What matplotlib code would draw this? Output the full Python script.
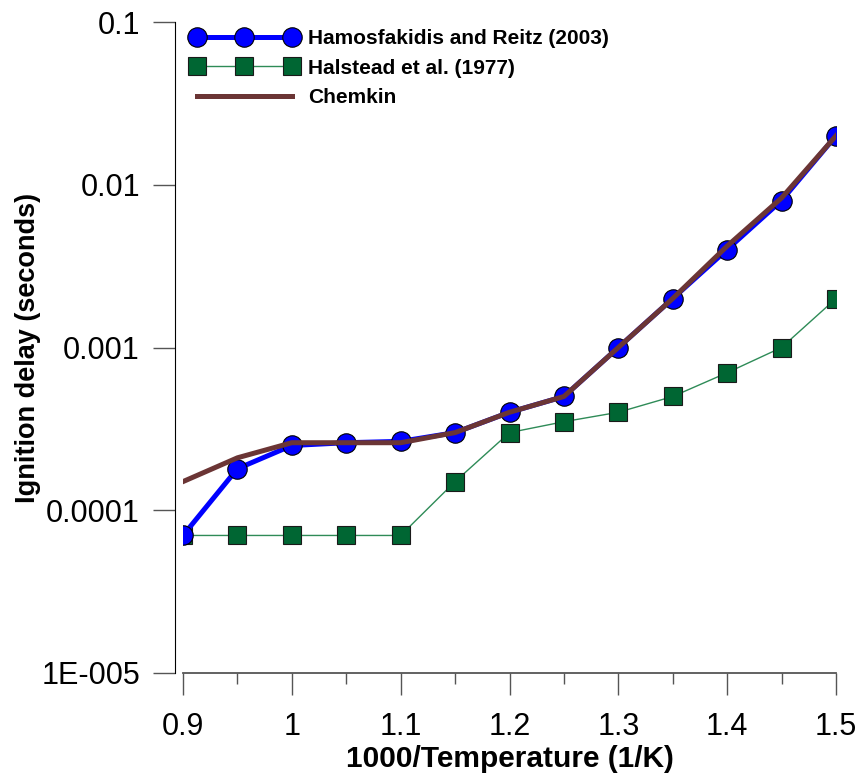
import matplotlib
matplotlib.use("Agg")
import matplotlib.pyplot as plt
from matplotlib.ticker import FixedLocator, FixedFormatter, MultipleLocator
import numpy as np

# inverse temperature, 1000/T (1/K)
inv_temp = [0.9, 0.95, 1.0, 1.05, 1.1, 1.15, 1.2, 1.25, 1.3, 1.35, 1.4, 1.45, 1.5]

hamos = [7e-5, 1.8e-4, 2.5e-4, 2.6e-4, 2.65e-4, 3e-4, 4e-4, 5e-4,
         1e-3, 2e-3, 4e-3, 8e-3, 2e-2]
halstead = [7e-5, 7e-5, 7e-5, 7e-5, 7e-5, 1.5e-4, 3e-4, 3.5e-4,
            4e-4, 5e-4, 7e-4, 1e-3, 2e-3]
chemkin = [1.5e-4, 2.1e-4, 2.6e-4, 2.6e-4, 2.6e-4, 3e-4, 4e-4, 5e-4,
           1e-3, 2e-3, 4.2e-3, 8.3e-3, 2e-2]

y_ticks = [1e-5, 1e-4, 1e-3, 1e-2, 1e-1]
y_ticklabels = ["1E-005", "0.0001", "0.001", "0.01", "0.1"]
x_ticks = [0.9, 1.0, 1.1, 1.2, 1.3, 1.4, 1.5]
x_ticklabels = ["0.9", "1", "1.1", "1.2", "1.3", "1.4", "1.5"]

narrow = ["Liberation Sans Narrow", "Liberation Sans", "DejaVu Sans"]
sans = ["Liberation Sans", "DejaVu Sans"]

fig = plt.figure(figsize=(8.61, 7.78), dpi=100)
ax = fig.add_axes([183 / 861, 1 - 673 / 778, (836 - 183) / 861, (673 - 22) / 778])

ax.plot(inv_temp, hamos, color="#0000ff", lw=3.6, marker="o", ms=14,
        mfc="#0000ff", mec="black", mew=0.8, label="Hamosfakidis and Reitz (2003)", zorder=3)
ax.plot(inv_temp, halstead, color="#2e8b57", lw=1.0, marker="s", ms=13,
        mfc="#006633", mec="#1a1a1a", mew=0.8, label="Halstead et al. (1977)", zorder=2)
ax.plot(inv_temp, chemkin, color="#6b3535", lw=3.6, label="Chemkin", zorder=4)

ax.set_yscale("log")
ax.set_xlim(0.9, 1.5)
ax.set_ylim(1e-5, 1e-1)

ax.yaxis.set_major_locator(FixedLocator(y_ticks))
ax.yaxis.set_major_formatter(FixedFormatter(y_ticklabels))
ax.yaxis.set_minor_locator(FixedLocator([]))
ax.xaxis.set_major_locator(FixedLocator(x_ticks))
ax.xaxis.set_major_formatter(FixedFormatter(x_ticklabels))
ax.xaxis.set_minor_locator(MultipleLocator(0.05))

for s in ["top", "right"]:
    ax.spines[s].set_visible(False)
ax.spines["left"].set_position(("outward", 6))
ax.spines["left"].set_color("black")
ax.spines["bottom"].set_color("#555555")
ax.spines["bottom"].set_linewidth(1.3)

ax.tick_params(axis="y", which="major", direction="out", length=16, width=1,
               color="#555555", pad=9)
ax.tick_params(axis="x", which="major", direction="out", length=16, width=1,
               color="#555555", pad=12)
ax.tick_params(axis="x", which="minor", direction="out", length=8, width=1,
               color="#555555")

for lab in ax.get_xticklabels() + ax.get_yticklabels():
    lab.set_family(narrow)
    lab.set_fontsize(22)

ax.set_xlabel("1000/Temperature (1/K)", family=narrow, fontsize=21.5,
              fontweight="bold", labelpad=2)
ax.set_ylabel("Ignition delay (seconds)", family=sans, fontsize=19.5,
              fontweight="bold", labelpad=0)

leg = ax.legend(loc="upper left", bbox_to_anchor=(0.0, 1.0), frameon=False,
                numpoints=3, handlelength=5.2, handletextpad=0.45,
                labelspacing=0.5, borderaxespad=0.2, borderpad=0.15,
                prop={"family": sans, "weight": "bold", "size": 15})

fig.savefig("out.png", dpi=100)
